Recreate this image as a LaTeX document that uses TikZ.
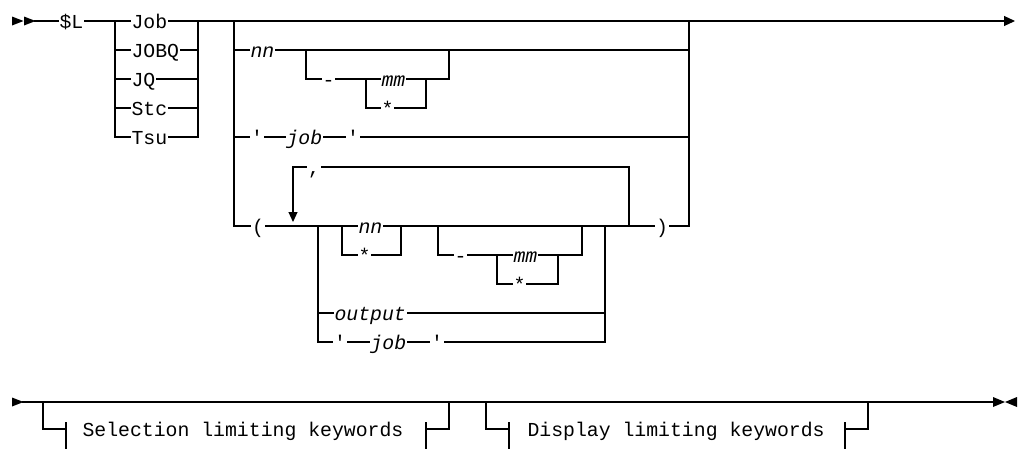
\documentclass[tikz,border=0pt]{standalone}
\usepackage{fontspec}
\newfontfamily\railfont{Liberation Mono}
\usetikzlibrary{arrows.meta}
\tikzset{
  rail/.style={line width=1.1pt, line cap=rect},
  kw/.style={font={\railfont\fontsize{19.8}{22}\selectfont}, anchor=west, inner xsep=1pt, inner ysep=0pt, text height=14pt, text depth=0pt},
  var/.style={kw, font={\railfont\fontsize{19.8}{22}\selectfont\itshape}},
  sym/.style={kw, anchor=center},
  tip/.style={-{Triangle[length=10pt,width=9pt]}}
}
\begin{document}
\begin{tikzpicture}[x=1pt,y=-1pt,rail]
        \useasboundingbox (0,0) rectangle (1020,448);

        \fill (12,16.5) -- (23.5,21) -- (12,25.5) -- cycle;
        \fill (24,16.5) -- (35.5,21) -- (24,25.5) -- cycle;
        \coordinate (start) at (35,21);
        \node[kw] (dl) at (58,21) {\$L};
        \coordinate (c1) at (115,21);
        \coordinate (c2) at (198,21);
        \node[kw] (job) at (130,21) {Job};
        \node[kw] (jobq) at (130,50) {JOBQ};
        \node[kw] (jq) at (130,79) {JQ};
        \node[kw] (stc) at (130,108) {Stc};
        \node[kw] (tsu) at (130,137) {Tsu};
        \draw (start) -- (dl) -- (c1);
        \draw (c1) -- (job) -- (c2);
        \foreach \n in {jobq,jq,stc} \draw (c1 |- \n) -- (\n) -- (c2 |- \n);
        \draw (c1) |- (tsu) -- (c2 |- tsu) -- (c2);

        \coordinate (b1) at (234,21);
        \coordinate (b2) at (689,21);
        \coordinate (fin) at (1015,21);
        \draw (c2) -- (b1) -- (b2);
        \draw[-{Triangle[length=11pt,width=10pt]}] (b2) -- (fin);

        \node[var] (nn1) at (249,50) {nn};
        \coordinate (o1) at (306,50);
        \coordinate (o2) at (449,50);
        \draw (b1 |- nn1) -- (nn1) -- (o1) -- (o2) -- (b2 |- nn1);
        \node[sym] (dash1) at (328.5,79) {-};
        \coordinate (m1) at (366,79);
        \coordinate (m2) at (426,79);
        \node[var] (mm1) at (380,79) {mm};
        \node[kw] (st1) at (380,108) {*};
        \draw (o1) |- (dash1) -- (m1) -- (mm1) -- (m2) -| (o2);
        \draw (m1) |- (st1) -- (m2 |- st1) -- (m2);

        \node[sym] (q1) at (257,137) {\textquotesingle};
        \node[var] (job1) at (285,137) {job};
        \node[sym] (q2) at (353,137) {\textquotesingle};
        \draw (b1 |- q1) -- (q1) -- (job1) -- (q2) -- (b2 |- q2);

        \node[sym] (lp) at (258,226) {(};
        \node[sym] (rp) at (662,226) {)};
        \coordinate (ch1) at (318,226);
        \coordinate (ch2) at (605,226);
        \coordinate (lp2) at (629,226);
        \coordinate (lpa) at (293,222);
        \draw (b1) |- (lp) -- (ch1);
        \draw (ch2) -- (lp2) -- (rp) -- (b2 |- rp) -- (b2);
        \node[sym] (comma) at (314,167) {,};
        \draw (lp2) |- (comma);
        \draw[tip] (comma) -| (lpa);

        \coordinate (n1) at (342,226);
        \coordinate (n2) at (401,226);
        \node[var] (nn2) at (357,226) {nn};
        \node[kw] (st2) at (357,255) {*};
        \coordinate (d1) at (438,226);
        \coordinate (d2) at (582,226);
        \draw (ch1) -- (n1) -- (nn2) -- (n2) -- (d1) -- (d2) -- (ch2);
        \draw (n1) |- (st2) -- (n2 |- st2) -- (n2);
        \node[sym] (dash2) at (460.5,255) {-};
        \coordinate (e1) at (497,255);
        \coordinate (e2) at (558,255);
        \node[var] (mm2) at (512,255) {mm};
        \node[kw] (st3) at (512,284) {*};
        \draw (d1) |- (dash2) -- (e1) -- (mm2) -- (e2) -| (d2);
        \draw (e1) |- (st3) -- (e2 |- st3) -- (e2);

        \node[var] (out) at (333,313) {output};
        \draw (ch1 |- out) -- (out) -- (ch2 |- out);
        \node[sym] (q3) at (340,342) {\textquotesingle};
        \node[var] (job2) at (369,342) {job};
        \node[sym] (q4) at (437,342) {\textquotesingle};
        \draw (ch1) |- (q3) -- (job2) -- (q4) -- (ch2 |- q4) -- (ch2);

        \fill (12,397.5) -- (23.5,402) -- (12,406.5) -- cycle;
        \coordinate (s0) at (23,402);
        \coordinate (p1) at (43,402);
        \coordinate (p2) at (449,402);
        \coordinate (r1) at (486,402);
        \coordinate (r2) at (868,402);
        \coordinate (fin2) at (993,402);
        \draw (s0) -- (p1) -- (p2) -- (r1) -- (r2) -- (fin2);
        \fill (993,397) -- (1005,402) -- (993,407) -- cycle;
        \fill (1017,397) -- (1005,402) -- (1017,407) -- cycle;

        \node[kw] (sel) at (81,429) {Selection limiting keywords};
        \node[kw] (dsp) at (526,429) {Display limiting keywords};
        \coordinate (t1) at (66,429);
        \coordinate (t2) at (426,429);
        \coordinate (t3) at (509,429);
        \coordinate (t4) at (845,429);
        \draw (p1) |- (t1);
        \draw (t2) -| (p2);
        \draw (r1) |- (t3);
        \draw (t4) -| (r2);
        \foreach \t in {t1,t2,t3,t4} \draw ([yshift=6pt]\t) -- ([yshift=-20pt]\t);
\end{tikzpicture}
\end{document}
